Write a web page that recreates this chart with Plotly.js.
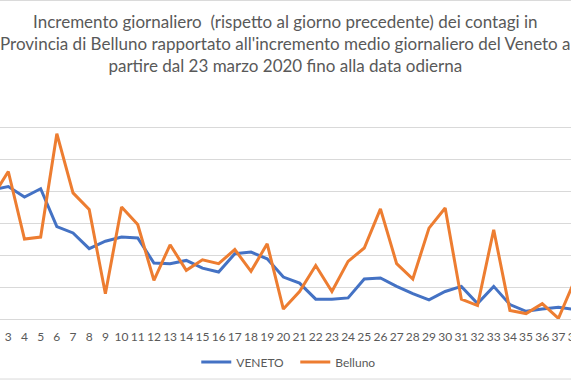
<!DOCTYPE html>
<html>
<head>
<meta charset="utf-8">
<script src="https://cdn.plot.ly/plotly-3.0.1.min.js"></script>
<style>
html,body{margin:0;padding:0;background:#fff;}
#wrap{position:relative;width:571px;height:381px;overflow:hidden;}
#chart{position:absolute;left:-20px;top:0;width:611px;height:381px;}
</style>
</head>
<body>
<div id="wrap"><div id="chart"></div></div>
<script>
// Day index (category labels on the x axis)
const days = [2,3,4,5,6,7,8,9,10,11,12,13,14,15,16,17,18,19,20,21,22,23,24,25,26,27,28,29,30,31,32,33,34,35,36,37,38];
// Daily increment, Veneto (average)
const veneto = [4.04,4.14,3.81,4.07,2.89,2.69,2.20,2.43,2.56,2.53,1.75,1.73,1.83,1.59,1.47,2.04,2.09,1.88,1.31,1.12,0.62,0.62,0.66,1.25,1.28,1.02,0.79,0.60,0.86,1.02,0.48,1.02,0.45,0.24,0.31,0.37,0.30];
// Daily increment, Province of Belluno
const belluno = [3.79,4.61,2.50,2.56,5.79,3.94,3.42,0.79,3.50,2.95,1.21,2.32,1.52,1.85,1.73,2.17,1.49,2.35,0.31,0.86,1.67,0.86,1.80,2.22,3.44,1.73,1.25,2.84,3.47,0.62,0.42,2.79,0.27,0.17,0.48,0.02,1.20];
const seriesNames = ["VENETO","Belluno"];
const titleLines = [
  "Incremento giornaliero  (rispetto al giorno precedente) dei contagi in",
  "Provincia di Belluno rapportato all'incremento medio giornaliero del Veneto a",
  "partire dal 23 marzo 2020 fino alla data odierna"
];

const traces = [
  {x: days, y: veneto, name: seriesNames[0], type: 'scatter', mode: 'lines',
   line: {color: '#4472C4', width: 3}},
  {x: days, y: belluno, name: seriesNames[1], type: 'scatter', mode: 'lines',
   line: {color: '#ED7D31', width: 3}}
];

const layout = {
  width: 611, height: 381,
  margin: {l: 0, r: 0, t: 95, b: 62, pad: 0},
  paper_bgcolor: '#ffffff', plot_bgcolor: '#ffffff',
  font: {family: 'Lato, sans-serif', color: '#595959'},
  annotations: [{
    text: titleLines.join('<br>'), xref: 'paper', yref: 'paper', x: 0.5, y: 1.228,
    xanchor: 'center', yanchor: 'middle', showarrow: false, align: 'center',
    font: {family: 'Lato, sans-serif', size: 17, color: '#595959'}
  }],
  xaxis: {range: [1.251, 39.013], tickmode: 'linear', tick0: 2, dtick: 1,
          showgrid: false, zeroline: false, showline: false, ticks: '',
          ticklabelstandoff: 9,
          tickfont: {family: 'Lato, sans-serif', size: 12, color: '#595959'}},
  yaxis: {range: [0, 7], dtick: 1, showticklabels: false, ticks: '',
          showgrid: true, gridcolor: '#D9D9D9', gridwidth: 1,
          zeroline: true, zerolinecolor: '#D9D9D9', zerolinewidth: 1, showline: false},
  showlegend: true,
  legend: {orientation: 'h', x: 0.516, xanchor: 'center', y: -0.192, yanchor: 'middle',
           entrywidth: 54, entrywidthmode: 'pixels', itemwidth: 30,
           font: {family: 'Lato, sans-serif', size: 12, color: '#595959'}, bgcolor: 'rgba(0,0,0,0)'},
  shapes: [
    {type: 'line', xref: 'paper', yref: 'paper', x0: 0, x1: 1, y0: 1.422, y1: 1.422, line: {color: '#D9D9D9', width: 1}},
    {type: 'line', xref: 'paper', yref: 'paper', x0: 0, x1: 1, y0: -0.268, y1: -0.268, line: {color: '#D9D9D9', width: 1}}
  ]
};

Plotly.newPlot('chart', traces, layout, {displayModeBar: false, staticPlot: true});
</script>
</body>
</html>
